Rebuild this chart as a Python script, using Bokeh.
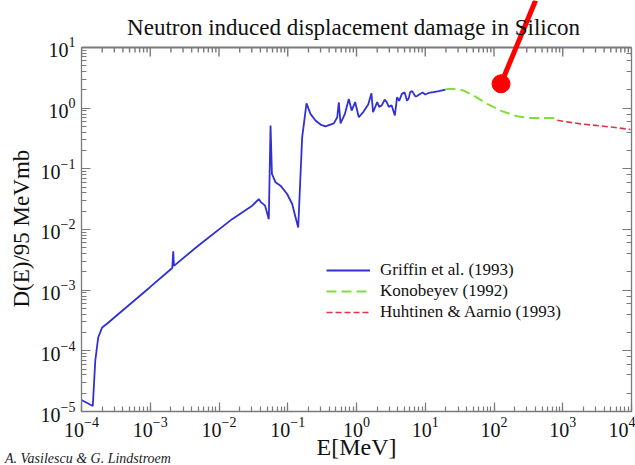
from bokeh.plotting import figure
from bokeh.models import LogAxis, Label, Arrow, Legend, LegendItem, Div, Title
from bokeh.layouts import column
from bokeh.embed import file_html
from bokeh.resources import INLINE

TITLE = "Neutron induced displacement damage in Silicon"
X_LABEL = "E[MeV]"
Y_LABEL = "D(E)/95 MeVmb"
CREDIT = "A. Vasilescu & G. Lindstroem"
SERIES_NAMES = ["Griffin et al. (1993)", "Konobeyev (1992)", "Huhtinen & Aarnio (1993)"]

# Griffin et al. (1993): energy [MeV] and D(E)/95 MeVmb
griffin_E = [1.0e-4, 1.46e-4, 1.585e-4, 1.75e-4, 2.0e-4, 2.37e-4, 1.0e-3, 2.09e-3,
             2.16e-3, 2.21e-3, 4.82e-3, 1.55e-2, 3.04e-2, 3.8e-2, 4.07e-2, 4.68e-2,
             5.3e-2, 5.62e-2, 5.89e-2, 6.64e-2, 7.85e-2, 9.8e-2, 0.116, 0.130,
             0.142, 0.162, 0.1875, 0.214, 0.253, 0.30, 0.354, 0.468, 0.525,
             0.553, 0.586, 0.676, 0.773, 0.851, 0.955, 1.08, 1.26, 1.48, 1.65,
             1.74, 2.0, 2.14, 2.34, 2.57, 2.75, 2.95, 3.24, 3.61, 3.89, 4.17,
             4.57, 5.01, 5.43, 5.75, 6.03, 6.46, 7.16, 7.59, 8.51, 9.12, 10.0,
             11.2, 13.2, 15.8, 19.7]
griffin_D = [1.55e-5, 1.23e-5, 6.8e-5, 1.66e-4, 2.43e-4, 2.82e-4, 1.13e-3, 2.32e-3,
             4.37e-3, 2.51e-3, 5.25e-3, 1.48e-2, 2.47e-2, 3.18e-2, 2.82e-2, 2.47e-2,
             1.48e-2, 0.516, 8.24e-2, 6.0e-2, 5.28e-2, 3.85e-2, 2.63e-2, 1.58e-2,
             1.08e-2, 0.331, 1.20, 0.805, 0.624, 0.537, 0.50, 0.562, 0.708,
             1.25, 0.562, 0.794, 1.42, 0.912, 1.26, 0.708, 0.871, 1.15, 1.76,
             0.855, 1.26, 1.05, 1.12, 1.38, 1.26, 1.05, 1.12, 0.759, 1.51, 1.32,
             1.72, 1.82, 1.33, 1.45, 1.84, 1.91, 1.57, 1.58, 1.72, 1.82, 1.68,
             1.78, 1.84, 1.91, 2.03]

# Konobeyev (1992)
konob_E = [19.7, 26.0, 36.3, 50.8, 79.4, 124, 217, 339, 785]
konob_D = [2.05, 2.08, 1.95, 1.61, 1.18, 0.912, 0.734, 0.69, 0.687]

# Huhtinen & Aarnio (1993)
huht_E = [832, 1820, 5500, 9660]
huht_D = [0.63, 0.55, 0.484, 0.444]

# red pointer annotation (starts at the top edge, ends at the dot)
pointer_E = [402, 126.5]
pointer_D = [59.5, 2.52]

X_RANGE = (1e-4, 1e4)
AXIS_BOUNDS_Y = (1e-5, 1e1)
Y_TOP = 59.5          # room above the box for title and pointer
Y_RANGE = (1e-5, Y_TOP)

SERIF = "Liberation Serif"
GRAY = "#7a7a7a"
TXT = "#111111"
PX_PER_DECADE_Y = 60.67

p = figure(width=635, height=465, x_axis_type="log", y_axis_type="log",
           x_range=X_RANGE, y_range=Y_RANGE, output_backend="svg",
           toolbar_location=None, min_border_left=81, min_border_right=4,
           min_border_top=0, min_border_bottom=54)
p.background_fill_color = "#ffffff"
p.border_fill_color = "#ffffff"
p.outline_line_color = None
p.grid.visible = False

for ax in (p.xaxis[0], p.yaxis[0]):
    ax.axis_line_color = GRAY
    ax.axis_line_width = 1.3
    ax.major_tick_line_color = GRAY
    ax.minor_tick_line_color = GRAY
    ax.major_tick_line_width = 1.2
    ax.minor_tick_line_width = 1.2
    ax.major_tick_in = 9
    ax.major_tick_out = 0
    ax.minor_tick_in = 5
    ax.minor_tick_out = 0
    ax.major_label_text_font = SERIF
    ax.major_label_text_font_size = "20px"
    ax.major_label_text_color = TXT
    ax.axis_label_text_font = SERIF
    ax.axis_label_text_font_style = "normal"
    ax.axis_label_text_color = TXT

p.yaxis[0].bounds = AXIS_BOUNDS_Y
p.xaxis[0].axis_label = X_LABEL
p.xaxis[0].axis_label_text_font_size = "24px"
p.xaxis[0].major_label_standoff = 5
p.xaxis[0].axis_label_standoff = -6
p.yaxis[0].major_label_standoff = 6

# y axis title placed along the box height (box is 47..411 px)
p.add_layout(Title(text=Y_LABEL, align="left", offset=104, standoff=8,
                   text_font=SERIF, text_font_style="normal", text_font_size="23px",
                   text_color=TXT), "left")

right_ax = LogAxis(major_tick_in=9, major_tick_out=0, minor_tick_in=5, minor_tick_out=0,
                   major_label_text_font_size="2px", major_label_text_color=None,
                   major_label_standoff=0, bounds=AXIS_BOUNDS_Y,
                   axis_line_color=GRAY, axis_line_width=1.3,
                   major_tick_line_color=GRAY, minor_tick_line_color=GRAY,
                   major_tick_line_width=1.2, minor_tick_line_width=1.2)
p.add_layout(right_ax, "right")

# top edge of the box with inward ticks
top = AXIS_BOUNDS_Y[1]
p.line(x=list(X_RANGE), y=[top, top], line_color=GRAY, line_width=2)
major_ticks = [10.0 ** k for k in range(-4, 5)]
minor_ticks = [m * 10.0 ** k for k in range(-4, 4) for m in range(2, 10)]
maj_len = top * 10 ** (-9 / PX_PER_DECADE_Y)
min_len = top * 10 ** (-5 / PX_PER_DECADE_Y)
p.multi_line(xs=[[t, t] for t in major_ticks], ys=[[top, maj_len] for _ in major_ticks],
             line_color=GRAY, line_width=1.4)
p.multi_line(xs=[[t, t] for t in minor_ticks], ys=[[top, min_len] for _ in minor_ticks],
             line_color=GRAY, line_width=1.4)

r1 = p.line(griffin_E, griffin_D, line_color="#3030d4", line_width=1.8)
r2 = p.line(konob_E, konob_D, line_color="#80dd3c", line_width=2, line_dash="10 5")
r3 = p.line(huht_E, huht_D, line_color="#dd3344", line_width=1.6, line_dash="6 3")

legend = Legend(items=[LegendItem(label=SERIES_NAMES[0], renderers=[r1]),
                       LegendItem(label=SERIES_NAMES[1], renderers=[r2]),
                       LegendItem(label=SERIES_NAMES[2], renderers=[r3])],
                location=(240, 84), border_line_alpha=0, background_fill_alpha=0,
                label_text_font=SERIF, label_text_font_size="17px", label_text_color=TXT,
                glyph_width=44, glyph_height=20, label_height=20, spacing=1,
                label_standoff=10, padding=5, margin=0)
p.add_layout(legend, "center")

p.add_layout(Arrow(end=None, x_start=pointer_E[0], y_start=pointer_D[0],
                   x_end=pointer_E[1], y_end=pointer_D[1],
                   line_color="#ff0000", line_width=5))
p.scatter([pointer_E[1]], [pointer_D[1]], size=18, color="#ff0000")

p.add_layout(Label(x=272, y=384, x_units="screen", y_units="screen", text=TITLE,
                   text_align="center", text_baseline="alphabetic",
                   text_font=SERIF, text_font_size="23px", text_color=TXT))

credit = Div(text=CREDIT, margin=(-14, 0, 0, 5),
             styles={"font-family": SERIF, "font-style": "italic",
                     "font-size": "14px", "color": "#222222", "line-height": "16px"})

open("out.html", "w").write(file_html(column(p, credit), INLINE))
